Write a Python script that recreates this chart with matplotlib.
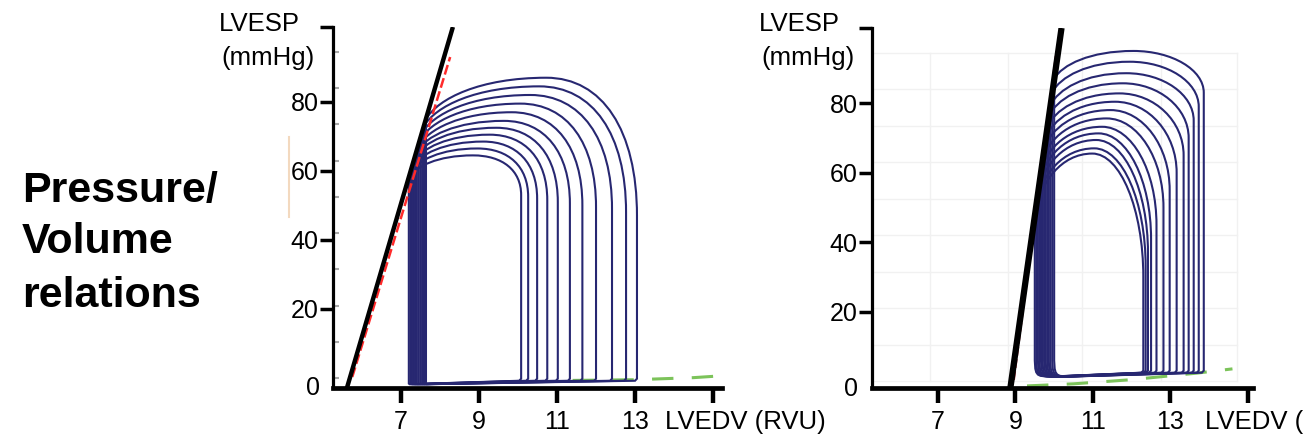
import numpy as np
import matplotlib
matplotlib.use('Agg')
import matplotlib.pyplot as plt
from matplotlib.path import Path
from matplotlib.patches import PathPatch
from matplotlib.lines import Line2D

plt.rcParams['font.family'] = ['Liberation Sans', 'DejaVu Sans']

# ---- left panel: PV loops (volume in RVU, pressure in mmHg)
left_esv  = [7.20, 7.24, 7.28, 7.32, 7.36, 7.40, 7.44, 7.49, 7.54, 7.59, 7.64]
left_edv  = [10.08, 10.26, 10.49, 10.75, 11.02, 11.33, 11.65, 12.00, 12.41, 12.77, 13.05]
left_pes  = [58, 59.5, 61, 62.5, 64, 65.5, 67, 69, 71, 73, 75]
left_peak = [64.5, 66.5, 68.5, 70.5, 72.5, 74.5, 77, 79.5, 82, 84.5, 87]
left_knee = [53, 52.5, 52, 51.5, 51, 50.5, 50, 49.5, 49, 48, 47]
left_ped  = [-1.8, -0.8]   # filling pressure at start / end of filling

left_espvr_v = [5.61, 8.33]
left_espvr_p = [-3.0, 101.7]
left_fit_v = [5.75, 8.26]
left_fit_p = [0.3, 93.0]
left_edpvr_v = [11.4, 13.0, 14.5, 15.3]
left_edpvr_p = [-0.7, -0.5, 0.1, 0.7]

# ---- right panel
right_esv  = [9.50, 9.54, 9.58, 9.62, 9.66, 9.70, 9.74, 9.78, 9.82, 9.86, 9.90, 9.95, 10.00]
right_edv  = [12.30, 12.36, 12.42, 12.50, 12.64, 12.82, 12.98, 13.16, 13.34, 13.47, 13.60, 13.73, 13.86]
right_pes  = [48.5, 51.6, 54.7, 57.7, 60.8, 63.9, 67, 70, 73.1, 76.2, 79.3, 83.1, 87]
right_peak = [65.5, 67, 69.4, 71.3, 73.2, 75.6, 78, 80.4, 82.8, 85.7, 88.6, 91.9, 95]
right_knee = [30, 33, 37, 41, 45, 50, 55, 60, 65, 70, 75, 79, 83]
right_ped  = [1.4, 2.5]

right_espvr_v = [8.87, 10.19]
right_espvr_p = [-1.9, 101.6]
right_fit_v = [8.96, 10.06]
right_fit_p = [0.4, 95.0]
right_edpvr_v = [9.3, 10.5, 12.0, 13.7, 14.6]
right_edpvr_p = [-1.3, -0.7, 0.5, 2.4, 3.6]

yticks = [20, 40, 60, 80]
xticks = [7, 9, 11, 13, 15]
xticklabels = ['7', '9', '11', '13', '']

NAVY = '#272771'
W, H = 1304, 436


def pv_loop(ax, esv, edv, pes, pk, knee, ped, top_frac, k1, corner):
    xtop = esv + top_frac * (edv - esv)
    cx, cy = corner
    verts = [
        (esv, ped[0] + cy),
        (esv, ped[0]), (esv, ped[0]), (esv + cx, ped[0]),
        (edv - 0.05, ped[1]),
        (edv, ped[1] + 0.6),
        (edv, knee),
        (edv, knee + k1 * (pk - knee)), (xtop + k1 * (edv - xtop), pk), (xtop, pk),
        (xtop - 0.55 * (xtop - esv), pk), (esv + 0.1 * (xtop - esv), pes + 0.5 * (pk - pes)), (esv, pes),
        (esv, ped[0] + cy),
    ]
    codes = [Path.MOVETO, Path.CURVE4, Path.CURVE4, Path.CURVE4,
             Path.LINETO, Path.LINETO, Path.LINETO,
             Path.CURVE4, Path.CURVE4, Path.CURVE4,
             Path.CURVE4, Path.CURVE4, Path.CURVE4,
             Path.LINETO]
    ax.add_patch(PathPatch(Path(verts, codes), fill=False, edgecolor=NAVY, lw=1.5, zorder=3))


def style_axes(ax, xlim, ylim):
    ax.set_xlim(*xlim)
    ax.set_ylim(*ylim)
    for s in ['top', 'right']:
        ax.spines[s].set_visible(False)
    ax.spines['left'].set_linewidth(2.3)
    ax.spines['bottom'].set_linewidth(3.4)
    ax.set_xticks(xticks)
    ax.set_xticklabels(xticklabels)
    ax.set_yticks(yticks + [ylim[1]])
    ax.set_yticklabels([str(v) for v in yticks] + [''])
    ax.tick_params(axis='x', length=11, width=3.2, pad=5, labelsize=18, colors='black')
    ax.tick_params(axis='y', length=9.5, width=2.5, pad=1, labelsize=18, colors='black')


fig = plt.figure(figsize=(W / 100, H / 100), dpi=100)
ax1 = fig.add_axes([333 / W, 48 / H, 389 / W, 361 / H])
ax2 = fig.add_axes([872 / W, 48 / H, 381 / W, 360 / H])

# left
style_axes(ax1, (5.256, 15.23), (-2.9, 101.7))
ax1.set_yticks(np.arange(0, 100, 10.5), minor=True)
ax1.tick_params(axis='y', which='minor', direction='in', length=4, width=1.5, color='#a8a8a8')
for i in range(len(left_edv)):
    pv_loop(ax1, left_esv[i], left_edv[i], left_pes[i], left_peak[i], left_knee[i],
            left_ped, 0.57, 0.62, (0.05, 0.5))
ax1.plot(left_edpvr_v, left_edpvr_p, color='#7cc35a', lw=2.2, ls=(0, (7, 6)), zorder=2)
ax1.plot(left_fit_v, left_fit_p, color='#ff2b2b', lw=1.8, ls=(0, (4, 1.5)), zorder=4)
ax1.plot(left_espvr_v, left_espvr_p, color='black', lw=3.2, zorder=5, solid_capstyle='butt')

# right
style_axes(ax2, (5.30, 15.13), (-1.9, 101.6))
for x in [6.80, 8.82, 10.73, 12.75, 14.71]:
    ax2.plot([x, x], [0, 94.5], color='#f1f1f1', lw=1, zorder=0)
for y in np.arange(0, 95, 10.5):
    ax2.plot([5.3, 14.71], [y, y], color='#f1f1f1', lw=1, zorder=0)
for i in range(len(right_edv)):
    pv_loop(ax2, right_esv[i], right_edv[i], right_pes[i], right_peak[i], right_knee[i],
            right_ped, 0.53, 0.55, (0.45, 7))
ax2.plot(right_edpvr_v, right_edpvr_p, color='#7cc35a', lw=2.2, ls=(0, (7, 6)), zorder=2)
ax2.plot(right_fit_v, right_fit_p, color='#b0303a', lw=1.6, ls=(0, (4, 1.5)), zorder=4)
ax2.plot(right_espvr_v, right_espvr_p, color='black', lw=4.5, zorder=5, solid_capstyle='butt')

# texts
def ftext(x, y, s, **kw):
    fig.text(x / W, 1 - y / H, s, **kw)

for line, base in zip(['Pressure/', 'Volume', 'relations'], [202, 253, 307]):
    ftext(22, base, line, fontsize=31, fontweight='bold', va='baseline', ha='left')

for x0 in [219, 759]:
    ftext(x0, 31, 'LVESP', fontsize=18.5, va='baseline', ha='left')
    ftext(x0 + 2, 65, '(mmHg)', fontsize=18.5, va='baseline', ha='left')

ftext(320, 388, '0', fontsize=18, va='center', ha='right')
ftext(858, 389, '0', fontsize=18, va='center', ha='right')
ftext(665, 429, 'LVEDV (RVU)', fontsize=18.5, va='baseline', ha='left')
# the reference cuts this label at the right edge of the image
ftext(1205, 429, 'LVEDV (RVU)', fontsize=18.5, va='baseline', ha='left')

fig.add_artist(Line2D([289 / W, 289 / W], [1 - 137 / H, 1 - 217 / H],
                      color='#f3d9bf', lw=1.5))

fig.savefig('out.png', dpi=100)
